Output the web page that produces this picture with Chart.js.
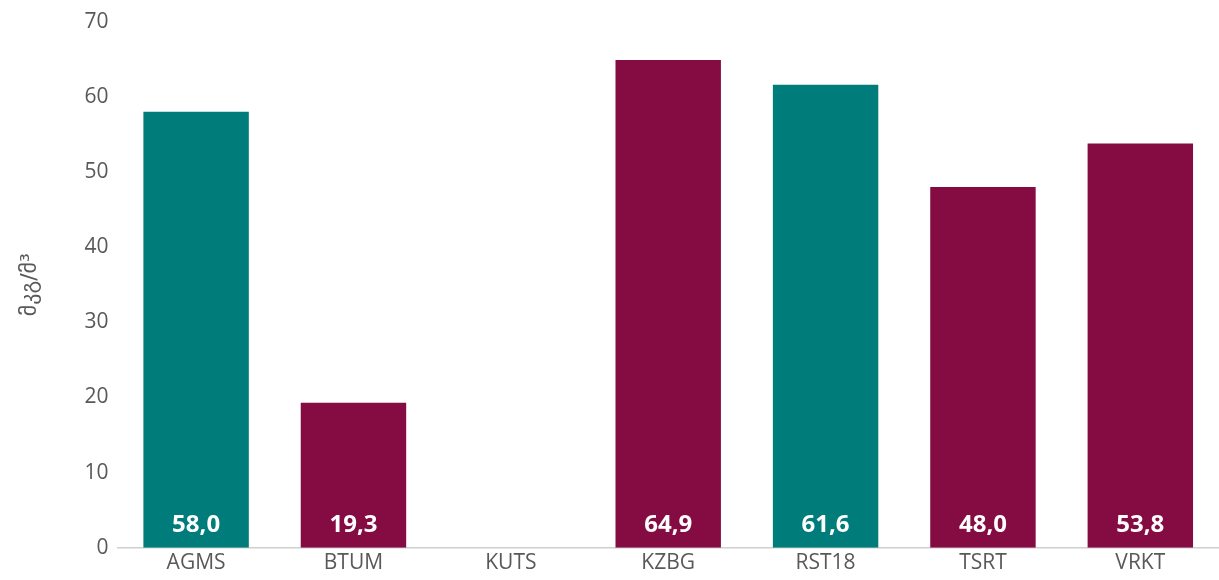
<!DOCTYPE html>
<html>
<head>
<meta charset="utf-8">
<script src="https://cdn.jsdelivr.net/npm/chart.js@4"></script>
<style>
  html, body { margin: 0; padding: 0; background: #fff; }
  #wrap { width: 1219px; height: 580px; }
</style>
</head>
<body>
<div id="wrap"><canvas id="myChart" width="1219" height="580"></canvas></div>
<script>
// stations and measured values (µg/m³); KUTS has no data
const stations = ['AGMS', 'BTUM', 'KUTS', 'KZBG', 'RST18', 'TSRT', 'VRKT'];
const values = [58.0, 19.3, null, 64.9, 61.6, 48.0, 53.8];
const tealStations = ['AGMS', 'RST18'];
const yTicks = [0, 10, 20, 30, 40, 50, 60, 70];

const TEAL = '#007d7b';
const MAROON = '#850c42';

// draw value labels at the foot of each bar
const baseLabels = {
  id: 'baseLabels',
  afterDatasetsDraw(chart) {
    const ctx = chart.ctx;
    const meta = chart.getDatasetMeta(0);
    const yBase = chart.scales.y.getPixelForValue(0);
    ctx.save();
    ctx.fillStyle = '#ffffff';
    ctx.font = 'bold 24px "Open Sans", sans-serif';
    ctx.textAlign = 'center';
    ctx.textBaseline = 'middle';
    meta.data.forEach((bar, i) => {
      const v = values[i];
      if (v == null) return;
      ctx.fillText(v.toFixed(1).replace('.', ','), bar.x, yBase - 23);
    });
    ctx.restore();
  }
};

const ctx = document.getElementById('myChart').getContext('2d');
new Chart(ctx, {
  type: 'bar',
  data: {
    labels: stations,
    datasets: [{
      data: values,
      backgroundColor: stations.map(s => tealStations.includes(s) ? TEAL : MAROON),
      borderWidth: 0,
      categoryPercentage: 1,
      barPercentage: 0.67
    }]
  },
  options: {
    responsive: false,
    animation: false,
    layout: { padding: { top: 4, right: 0, left: 17, bottom: 1 } },
    plugins: { legend: { display: false }, tooltip: { enabled: false } },
    scales: {
      x: {
        grid: { display: false, drawTicks: false },
        border: { display: true, color: '#d0d0d0', width: 1.5 },
        ticks: { color: '#595959', font: { family: '"Open Sans", sans-serif', size: 21 }, padding: 3 }
      },
      y: {
        min: 0,
        max: 70,
        afterBuildTicks(axis) { axis.ticks = yTicks.map(v => ({ value: v })); },
        grid: { display: false, drawTicks: false },
        border: { display: false },
        ticks: { color: '#595959', font: { family: '"Open Sans", sans-serif', size: 21 }, padding: 9 },
        title: {
          display: true,
          text: 'მკგ/მ³',
          color: '#595959',
          font: { family: '"DejaVu Sans", sans-serif', size: 22 },
          padding: { top: 0, bottom: 32 }
        }
      }
    }
  },
  plugins: [baseLabels]
});
</script>
</body>
</html>
